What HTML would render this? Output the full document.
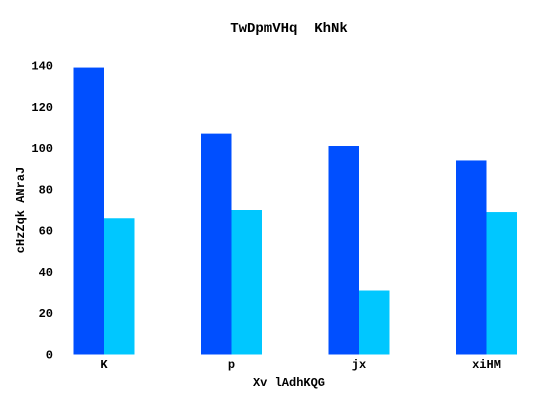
<!DOCTYPE html>
<html><head><meta charset="utf-8"><style>
body{margin:0;background:#fff}
svg text{font-family:"Liberation Mono","DejaVu Sans Mono",monospace;font-weight:bold;fill:#000}
</style></head><body>
<svg id="c" width="536" height="402" xmlns="http://www.w3.org/2000/svg">
<text x="289" y="32" text-anchor="middle" font-size="14" style="white-space:pre" xml:space="preserve">TwDpmVHq  KhNk</text>
<text x="289" y="386" text-anchor="middle" font-size="12">Xv lAdhKQG</text>
<text transform="translate(24,210) rotate(-90)" text-anchor="middle" font-size="12">cHzZqk ANraJ</text>
<g id="bars"></g><g id="ticks"></g>
</svg>
<script>
const categories = ["K","p","jx","xiHM"];
const series1 = [139,107,101,94];
const series2 = [66,70,31,69];
const yTicks = [0,20,40,60,80,100,120,140];
const NS="http://www.w3.org/2000/svg";
const y0=354.5, pxPerUnit=(354.5-65.5)/140;
function yScale(v){return y0-v*pxPerUnit;}
const bandStart=40.25, bandW=127.5, barW=30.5;
function xCenter(i){return bandStart+bandW*(i+0.5);}
const bars=document.getElementById('bars'), ticks=document.getElementById('ticks');
categories.forEach((c,i)=>{
  const cx=xCenter(i);
  [[series1,'#004fff',cx-barW,'bar-series1-'],[series2,'#00c7ff',cx,'bar-series2-']].forEach(([s,col,x,n])=>{
    const r=document.createElementNS(NS,'rect');
    r.setAttribute('x',x);r.setAttribute('width',barW);
    r.setAttribute('y',yScale(s[i]));r.setAttribute('height',y0-yScale(s[i]));
    r.setAttribute('fill',col);
    
    
    bars.appendChild(r);
  });
  const t=document.createElementNS(NS,'text');
  t.setAttribute('x',cx);t.setAttribute('y',368);t.setAttribute('text-anchor','middle');t.setAttribute('font-size','12');
  t.textContent=c;
  
  
  ticks.appendChild(t);
});
yTicks.forEach(v=>{
  const t=document.createElementNS(NS,'text');
  t.setAttribute('x',53);t.setAttribute('y',yScale(v)+4);t.setAttribute('text-anchor','end');t.setAttribute('font-size','12');
  t.textContent=v;
  
  
  ticks.appendChild(t);
});
</script>
</body></html>
